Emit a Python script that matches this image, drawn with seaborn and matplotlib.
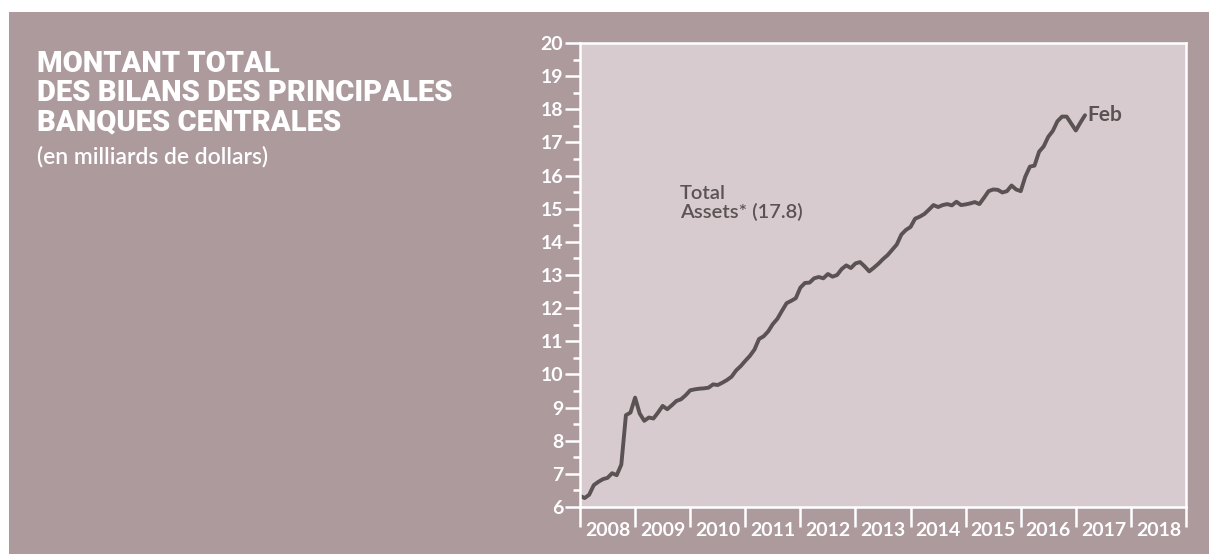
import numpy as np
import pandas as pd
import matplotlib
matplotlib.use("Agg")
import matplotlib.pyplot as plt
import seaborn as sns
from matplotlib.patches import Rectangle

# total assets, monthly from Jan 2008
assets = [
    6.34, 6.27, 6.37, 6.66, 6.76, 6.84, 6.88, 7.02, 6.96, 7.28, 8.77, 8.85,
    9.30, 8.82, 8.60, 8.70, 8.67, 8.85, 9.05, 8.95, 9.07, 9.20, 9.25, 9.37,
    9.52, 9.55, 9.57, 9.58, 9.60, 9.70, 9.68, 9.75, 9.83, 9.93, 10.12, 10.25,
    10.41, 10.56, 10.75, 11.07, 11.15, 11.30, 11.52, 11.68, 11.92, 12.15, 12.22, 12.30,
    12.62, 12.76, 12.77, 12.90, 12.94, 12.90, 13.03, 12.95, 13.00, 13.18, 13.29, 13.21,
    13.35, 13.39, 13.26, 13.11, 13.22, 13.34, 13.48, 13.60, 13.76, 13.92, 14.22, 14.36,
    14.45, 14.70, 14.76, 14.84, 14.97, 15.11, 15.05, 15.11, 15.14, 15.10, 15.21, 15.11,
    15.13, 15.16, 15.20, 15.14, 15.33, 15.53, 15.58, 15.57, 15.49, 15.53, 15.70, 15.58,
    15.53, 15.97, 16.27, 16.30, 16.72, 16.88, 17.17, 17.35, 17.64, 17.78, 17.78, 17.57,
    17.36, 17.60, 17.82,
]
years = [2008, 2009, 2010, 2011, 2012, 2013, 2014, 2015, 2016, 2017, 2018]
year_edges = years + [2019]
y_major = list(range(6, 21))
y_minor = [v + 0.5 for v in range(6, 20)]

title_lines = ["MONTANT TOTAL", "DES BILANS DES PRINCIPALES", "BANQUES CENTRALES"]
subtitle = "(en milliards de dollars)"

dates = pd.date_range("2008-01-01", periods=len(assets), freq="MS")
df = pd.DataFrame({"date": dates, "assets": assets})
df["t"] = df["date"].dt.year + (df["date"].dt.month - 1) / 12

sns.set_style("ticks")
plt.rcParams["font.family"] = ["Lato", "DejaVu Sans"]

BG = "#ac9a9d"
PANEL = "#d7cbcf"
INK = "#5a5253"
W, H = 1209, 554

fig = plt.figure(figsize=(W / 100, H / 100), dpi=100, facecolor="white")
# mauve card, leaving the thin white margin top and left
fig.patches.append(Rectangle((9 / W, 0), 1, 1 - 12 / H, transform=fig.transFigure,
                             facecolor=BG, edgecolor="none", zorder=-5))

ax = fig.add_axes([580 / W, 1 - 507 / H, (1186 - 580) / W, (507 - 43) / H])
ax.set_facecolor(PANEL)
sns.lineplot(data=df, x="t", y="assets", color=INK, linewidth=2.8, ax=ax)
ax.set_xlim(2008, 2019)
ax.set_ylim(6, 20)
ax.set_xlabel("")
ax.set_ylabel("")

for s in ax.spines.values():
    s.set_color("white")
    s.set_linewidth(1.8)

ax.set_yticks(y_major)
ax.set_yticks(y_minor, minor=True)
ax.tick_params(axis="y", which="major", length=10.5, width=1.8, color="white",
               labelcolor="white", labelsize=14, pad=1.5)
ax.tick_params(axis="y", which="minor", length=5, width=1.8, color="white")

# year boundaries get the long ticks, labels sit between them
ax.set_xticks(year_edges)
ax.set_xticklabels([])
ax.set_xticks([y + 0.5 for y in years], labels=[str(y) for y in years], minor=True)
ax.tick_params(axis="x", which="major", length=14.5, width=1.8, color="white")
ax.tick_params(axis="x", which="minor", length=0, labelcolor="white",
               labelsize=14, pad=11)
for lbl in ax.get_yticklabels() + ax.get_xticklabels(minor=True):
    lbl.set_fontweight("bold")

ax.text(2009.815, 15.72, "Total\nAssets* (17.8)", color=INK, fontsize=14.5,
        fontweight="semibold", va="top", ha="left", linespacing=1.1)
ax.text(df["t"].iloc[-1] + 0.04, assets[-1], "Feb", color=INK, fontsize=15,
        fontweight="bold", va="center", ha="left")

for i, line in enumerate(title_lines):
    fig.text(37 / W, 1 - (72 + 29 * i) / H, line, color="white", fontsize=21,
             family=["Roboto", "DejaVu Sans"], fontweight="black",
             va="baseline", ha="left")
fig.text(37 / W, 1 - 163 / H, subtitle, color="white", fontsize=16.5,
         fontweight="semibold", va="baseline", ha="left")

fig.savefig("out.png", dpi=100, facecolor=fig.get_facecolor())
